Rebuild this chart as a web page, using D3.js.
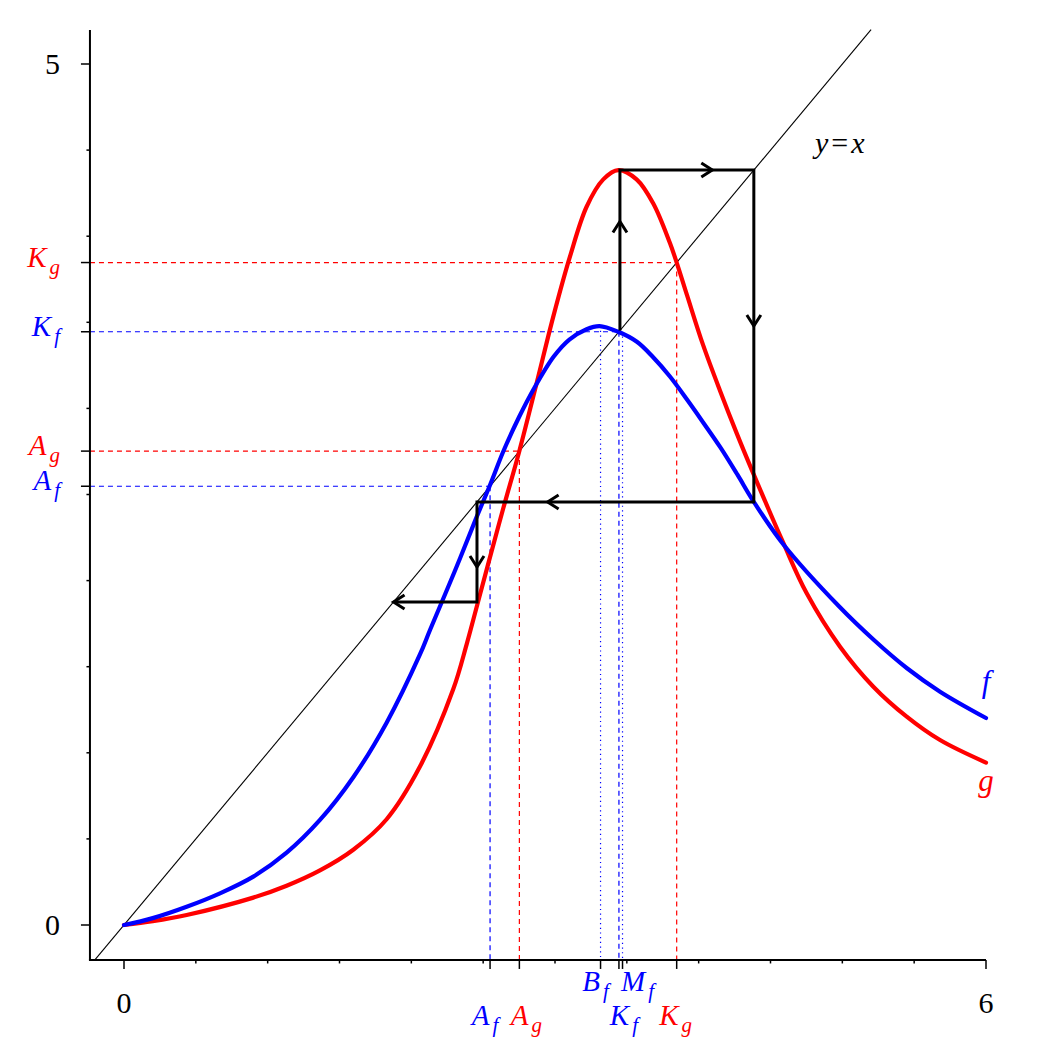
<!DOCTYPE html>
<html><head><meta charset="utf-8">
<script src="https://cdn.jsdelivr.net/npm/d3@7"></script>
<style>
body{margin:0;background:#fff}
</style>
</head><body>
<svg id="chart" width="1050" height="1050"></svg>
<script>
// ---- data ----
const fX = [0, 0.2, 0.436, 0.668, 0.9, 1.132, 1.364, 1.596, 1.828, 2.06, 2.13, 2.30, 2.45, 2.55, 2.64, 2.75, 2.85, 2.99, 3.10, 3.22, 3.31, 3.44, 3.57, 3.68, 3.80, 3.92, 4.03, 4.15, 4.27, 4.38, 4.59, 4.98, 5.22, 5.45, 5.68, 6.0];
const fY = [0, 0.04, 0.106, 0.184, 0.281, 0.42, 0.61, 0.858, 1.175, 1.571, 1.713, 2.05, 2.36, 2.56, 2.75, 2.95, 3.11, 3.30, 3.40, 3.46, 3.478, 3.445, 3.387, 3.30, 3.185, 3.05, 2.92, 2.775, 2.615, 2.462, 2.21, 1.848, 1.655, 1.491, 1.355, 1.202];
const gX = [0, 0.2, 0.436, 0.9, 1.132, 1.364, 1.596, 1.828, 2.06, 2.292, 2.385, 2.459, 2.536, 2.64, 2.752, 2.872, 2.988, 3.104, 3.22, 3.336, 3.441, 3.568, 3.684, 3.80, 3.847, 3.92, 4.03, 4.15, 4.265, 4.38, 4.59, 4.752, 4.984, 5.216, 5.448, 5.68, 6.0];
const gY = [0, 0.022, 0.058, 0.159, 0.228, 0.317, 0.437, 0.614, 0.92, 1.37, 1.63, 1.86, 2.10, 2.42, 2.753, 3.146, 3.533, 3.881, 4.171, 4.33, 4.384, 4.33, 4.19, 3.96, 3.847, 3.655, 3.37, 3.10, 2.855, 2.623, 2.217, 1.926, 1.616, 1.384, 1.210, 1.074, 0.943];

// special points
const levelNames  = ["A", "A", "K", "K"];
const levelSeries = ["f", "g", "f", "g"];
const levelValues = [2.548, 2.752, 3.445, 3.847];
const dotNames  = ["B", "M"];
const dotSeries = ["f", "f"];
const dotValues = [3.317, 3.470];
const dotTops   = [3.478, 3.445];

// cobweb iterates
const cobweb = [3.452, 4.384, 2.457, 1.876];
const arrowFrac = [0.68, 0.69, 0.47, 0.745, 0.65, 1.0];

const xTickLabels = [0, 6];
const yTickLabels = [0, 5];
const minorTicks = [0.5, 1, 1.5, 2, 2.5, 3, 3.5, 4, 4.5, 5, 5.5];
const xAxisExtent = [-0.237, 6];
const yAxisExtent = [-0.203, 5.197];
const diagExtent = [-0.2, 5.2];

// ---- drawing ----
const FONT = "'Liberation Serif', 'Times New Roman', serif";
const colors = {f: "#0000ff", g: "#ff0000"};
const svg = d3.select("#chart");
const x = d3.scaleLinear().domain([0, 6]).range([124, 986]);
const y = d3.scaleLinear().domain([0, 5]).range([925, 64]);
const x0 = x(xAxisExtent[0]), yb = y(yAxisExtent[0]);

// dashed guide lines
levelValues.forEach((v, i) => {
  const c = colors[levelSeries[i]];
  svg.append("line").attr("x1", x0).attr("x2", x(v)).attr("y1", y(v)).attr("y2", y(v))
    .attr("stroke", c).attr("stroke-width", 1.2).attr("stroke-dasharray", "5,4");
  svg.append("line").attr("x1", x(v)).attr("x2", x(v)).attr("y1", y(v)).attr("y2", yb)
    .attr("stroke", c).attr("stroke-width", 1.2).attr("stroke-dasharray", "5,4");
});
dotValues.forEach((v, i) => {
  svg.append("line").attr("x1", x(v)).attr("x2", x(v)).attr("y1", y(dotTops[i])).attr("y2", yb)
    .attr("stroke", colors[dotSeries[i]]).attr("stroke-width", 1.2).attr("stroke-dasharray", "1.2,3.5");
});

// diagonal y=x
svg.append("line").attr("x1", x(diagExtent[0])).attr("y1", y(diagExtent[0]))
  .attr("x2", x(diagExtent[1])).attr("y2", y(diagExtent[1]))
  .attr("stroke", "#000").attr("stroke-width", 1.1);

// curves
const line = d3.line().x(d => x(d[0])).y(d => y(d[1])).curve(d3.curveCatmullRom.alpha(0.5));
svg.append("path").datum(gX.map((v, i) => [v, gY[i]])).attr("d", line)
  .attr("fill", "none").attr("stroke", colors.g).attr("stroke-width", 4.2).attr("stroke-linecap", "round");
svg.append("path").datum(fX.map((v, i) => [v, fY[i]])).attr("d", line)
  .attr("fill", "none").attr("stroke", colors.f).attr("stroke-width", 4.2).attr("stroke-linecap", "round");

// cobweb
const pts = [[cobweb[0], cobweb[0]]];
for (let i = 1; i < cobweb.length; i++) {
  pts.push([cobweb[i - 1], cobweb[i]]);
  pts.push([cobweb[i], cobweb[i]]);
}
svg.append("path").attr("d", d3.line().x(d => x(d[0])).y(d => y(d[1]))(pts))
  .attr("fill", "none").attr("stroke", "#000").attr("stroke-width", 3).attr("stroke-linejoin", "miter");
for (let i = 0; i < pts.length - 1; i++) {
  const a = pts[i], b = pts[i + 1], t = arrowFrac[i];
  const tx = x(a[0]) + (x(b[0]) - x(a[0])) * t;
  const ty = y(a[1]) + (y(b[1]) - y(a[1])) * t;
  const ang = Math.atan2(y(b[1]) - y(a[1]), x(b[0]) - x(a[0]));
  const L = 11, W = 7;
  const bx = tx - L * Math.cos(ang), by = ty - L * Math.sin(ang);
  const px = -Math.sin(ang) * W, py = Math.cos(ang) * W;
  svg.append("path").attr("d", `M${bx + px},${by + py}L${tx},${ty}L${bx - px},${by - py}`)
    .attr("fill", "none").attr("stroke", "#000").attr("stroke-width", 3)
    .attr("stroke-linejoin", "miter").attr("stroke-linecap", "butt");
}

// axes
svg.append("line").attr("x1", x0).attr("x2", x0).attr("y1", y(yAxisExtent[1])).attr("y2", yb)
  .attr("stroke", "#000").attr("stroke-width", 2);
svg.append("line").attr("x1", x0 - 1).attr("x2", x(xAxisExtent[1])).attr("y1", yb).attr("y2", yb)
  .attr("stroke", "#000").attr("stroke-width", 2);

const tick = (x1, y1, x2, y2, w) => svg.append("line").attr("x1", x1).attr("y1", y1)
  .attr("x2", x2).attr("y2", y2).attr("stroke", "#000").attr("stroke-width", w);
minorTicks.forEach(v => tick(x(v), yb, x(v), yb + 3.5, 1.5));
minorTicks.filter(v => v < 5).forEach(v => tick(x0, y(v), x0 - 3.5, y(v), 1.5));
xTickLabels.forEach(v => tick(x(v), yb, x(v), yb + 9, 1.5));
yTickLabels.forEach(v => tick(x0, y(v), x0 - 9, y(v), 1.5));
levelValues.forEach(v => { tick(x(v), yb, x(v), yb + 9, 1.5); tick(x0, y(v), x0 - 9, y(v), 1.5); });
dotValues.forEach(v => tick(x(v), yb, x(v), yb + 9, 1.5));

// numeric labels
xTickLabels.forEach(v => svg.append("text").attr("x", x(v)).attr("y", 1013)
  .attr("font-family", FONT).attr("text-anchor", "middle").attr("font-size", 30).text(v));
yTickLabels.forEach(v => svg.append("text").attr("x", 60).attr("y", y(v) + 10)
  .attr("font-family", FONT).attr("text-anchor", "end").attr("font-size", 30).text(v));

// subscripted labels
function subLabel(px, py, anchor, name, sub, color) {
  const t = svg.append("text").attr("x", px).attr("y", py).attr("text-anchor", anchor)
    .attr("font-family", FONT).attr("fill", color).attr("font-style", "italic");
  t.append("tspan").attr("font-size", 29).text(name);
  t.append("tspan").attr("font-size", 21).attr("dx", 3).attr("dy", 7).text(sub);
  return t;
}
levelValues.forEach((v, i) => {
  subLabel(60, y(v) + 4, "end", levelNames[i], levelSeries[i], colors[levelSeries[i]]);
});
const bottomOffsets = [-5, 7, 5, -1];
levelValues.forEach((v, i) => {
  subLabel(x(v) + bottomOffsets[i], 1025, "middle", levelNames[i], levelSeries[i], colors[levelSeries[i]]);
});
const dotOffsets = [-5, 15];
dotValues.forEach((v, i) => {
  subLabel(x(v) + dotOffsets[i], 991, "middle", dotNames[i], dotSeries[i], colors[dotSeries[i]]);
});

// curve names and y=x
svg.append("text").attr("x", x(6)).attr("y", y(fY[fY.length - 1]) - 26).attr("text-anchor", "middle")
  .attr("font-family", FONT).attr("font-size", 31).attr("font-style", "italic").attr("fill", colors.f).text("f");
svg.append("text").attr("x", x(6)).attr("y", y(gY[gY.length - 1]) + 28).attr("text-anchor", "middle")
  .attr("font-family", FONT).attr("font-size", 31).attr("font-style", "italic").attr("fill", colors.g).text("g");
const yx = svg.append("text").attr("x", 815).attr("y", 153).attr("font-family", FONT).attr("font-size", 30);
yx.append("tspan").attr("font-style", "italic").text("y");
yx.append("tspan").attr("dx", 3).text("=");
yx.append("tspan").attr("dx", 3).attr("font-style", "italic").text("x");
</script>
</body></html>
